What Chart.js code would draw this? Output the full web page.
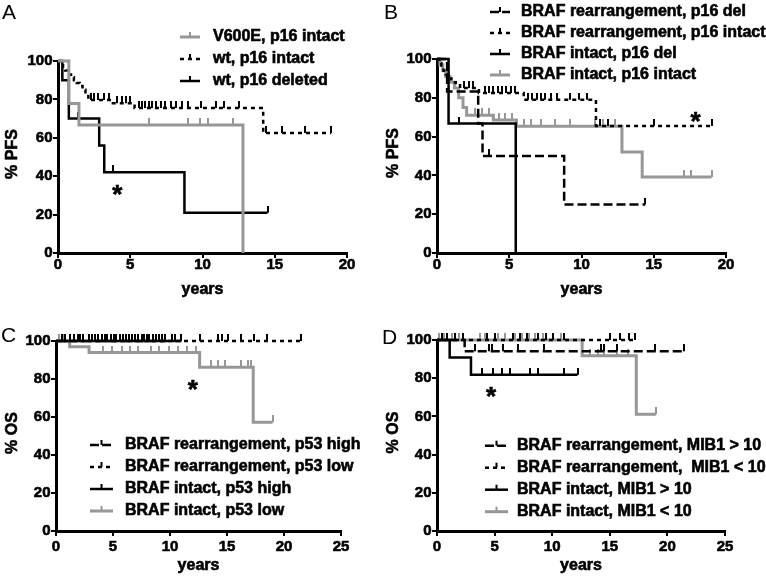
<!DOCTYPE html>
<html>
<head>
<meta charset="utf-8">
<script src="https://cdn.jsdelivr.net/npm/chart.js@4.4.1/dist/chart.umd.min.js"></script>
<style>
  body { margin: 0; background: #fff; }
  #wrap { position: relative; width: 766px; height: 580px; overflow: hidden; }
  canvas { position: absolute; }
  .panel { position: absolute; font: 21px "Liberation Sans", Arial, sans-serif; color: #000; }
</style>
</head>
<body>
<div id="wrap">
  <canvas id="pA" width="383" height="300" style="left:0;top:0"></canvas>
  <canvas id="pB" width="383" height="300" style="left:383px;top:0"></canvas>
  <canvas id="pC" width="383" height="290" style="left:0;top:290px"></canvas>
  <canvas id="pD" width="383" height="290" style="left:383px;top:290px"></canvas>
  <div class="panel" style="left:2px;top:0px">A</div>
  <div class="panel" style="left:384px;top:0px">B</div>
  <div class="panel" style="left:1px;top:323px">C</div>
  <div class="panel" style="left:382px;top:325px">D</div>
</div>
<script>
// tick labels
const xTicksAB = [0, 5, 10, 15, 20];
const xTicksCD = [0, 5, 10, 15, 20, 25];
const yTicks = [0, 20, 40, 60, 80, 100];

// A: PFS, V600E / wt and p16 status (event times, survival after event, censor times, last follow-up)
const aV600eT = [0, 0.75, 1.45, 12.8];
const aV600eS = [100, 77.8, 66.7, 0];
const aV600eC = [6.3, 9.0, 9.8, 10.4, 12.1];

const aWtIntT = [0, 0.2, 0.35, 0.5, 0.7, 0.9, 1.1, 1.3, 1.5, 1.7, 1.9, 2.1, 3.8, 5.3, 14.2];
const aWtIntS = [100, 98.5, 97, 95, 93, 91.5, 90, 88.5, 87, 85, 83, 79.7, 78, 75.5, 62.5];
const aWtIntC = [2.3, 2.5, 2.8, 3.2, 3.5, 4.1, 4.4, 4.7, 5.0, 5.6, 5.8, 6.0, 6.3, 6.5, 6.8, 7.1, 7.4,
                 7.8, 8.2, 8.6, 9.0, 9.9, 10.9, 11.5, 12.5, 14.4, 15.5, 17.1, 18.9];
const aWtIntEnd = 18.9;

const aWtDelT = [0, 0.3, 0.75, 2.85, 3.2, 8.75];
const aWtDelS = [100, 90, 70, 56, 42, 21];
const aWtDelC = [1.4, 3.8, 14.5];
const aWtDelEnd = 14.5;

// B: PFS, BRAF rearrangement and p16
const bReDelT = [0, 0.7, 2.85, 3.15, 8.8];
const bReDelS = [100, 83.3, 66.7, 50, 25];
const bReDelC = [3.6, 14.4];
const bReDelEnd = 14.4;

const bReIntT = [0, 0.15, 0.3, 0.45, 0.6, 0.8, 1.0, 1.3, 1.6, 2.9, 6.0, 11.0];
const bReIntS = [100, 98, 96, 94, 92, 90, 88, 86.5, 85, 82.5, 79, 65.5];
const bReIntC = [1.9, 2.2, 2.5, 3.3, 3.6, 3.9, 4.2, 4.5, 4.8, 5.1, 5.4, 6.3, 6.6, 6.9, 7.2, 7.5,
                 7.9, 8.3, 9.2, 9.8, 10.4, 11.3, 11.8, 15.0, 19.0];
const bReIntEnd = 19.0;

const bInDelT = [0, 0.8, 5.45];
const bInDelS = [100, 66.7, 0];
const bInDelC = [1.5];

const bInIntT = [0, 0.2, 0.4, 0.6, 0.9, 1.2, 1.5, 1.8, 2.05, 3.9, 5.5, 12.8, 14.2];
const bInIntS = [100, 97, 94, 91, 88, 85, 80, 75, 71, 68.5, 65.3, 52, 39.2];
const bInIntC = [2.6, 3.1, 3.6, 4.3, 4.7, 5.2, 6.0, 6.5, 7.2, 8.2, 9.2, 10.9, 11.5, 12.3, 17.1, 17.6, 19.0];
const bInIntEnd = 19.0;

// C: OS, BRAF rearrangement and p53
const cReHiT = [0];
const cReHiS = [100];
const cReHiC = [0.5, 1.6, 2.4, 3.2, 4.0, 4.8, 5.6, 6.4, 7.2, 8.0, 8.8, 9.6];
const cReHiEnd = 9.6;

const cReLoT = [0];
const cReLoS = [100];
const cReLoC = [0.8, 1.9, 2.9, 3.7, 4.5, 5.3, 6.1, 6.9, 7.7, 8.5, 9.3, 10.2, 12.6, 14.2, 14.6, 15.1,
                16.2, 17.4, 18.5, 21.5];
const cReLoEnd = 21.5;

const cInHiT = [0];
const cInHiS = [100];
const cInHiC = [1.2, 2.1, 3.4, 4.3, 5.1, 5.9, 6.7, 7.5, 8.2, 9.0, 10.4, 11.0];
const cInHiEnd = 11.0;

const cInLoT = [0, 1.2, 2.9, 12.6, 17.3];
const cInLoS = [100, 97, 93.9, 86.2, 57.3];
const cInLoC = [0.3, 0.6, 4.1, 4.9, 5.8, 6.5, 7.2, 8.3, 9.0, 9.9, 10.7, 11.5, 12.3, 13.6, 14.2, 14.8,
                16.2, 16.8, 17.1, 19.0];
const cInLoEnd = 19.0;

// D: OS, BRAF rearrangement and MIB1
const dReHiT = [0, 2.4];
const dReHiS = [100, 94.1];
const dReHiC = [3.3, 4.5, 4.8, 5.7, 7.0, 9.3, 14.2, 14.5, 15.6, 18.9, 21.4];
const dReHiEnd = 21.4;

const dReLoT = [0];
const dReLoS = [100];
const dReLoC = [0.4, 0.9, 1.6, 2.3, 4.3, 5.0, 6.6, 7.2, 7.8, 8.8, 9.5, 10.1, 11.0, 15.0, 15.9, 16.7, 17.2];
const dReLoEnd = 17.2;

const dInHiT = [0, 1.1, 2.95];
const dInHiS = [100, 90.9, 81.8];
const dInHiC = [3.9, 4.9, 5.6, 6.3, 8.1, 8.8, 11.0, 12.2];
const dInHiEnd = 12.2;

const dInLoT = [0, 12.6, 17.3];
const dInLoS = [100, 91.7, 61.1];
const dInLoC = [0.2, 0.6, 1.3, 1.9, 3.7, 4.2, 5.3, 5.9, 6.8, 7.4, 8.0, 8.5, 9.2, 10.1, 10.8, 13.3, 14.0,
                14.5, 15.6, 16.6, 19.0];
const dInLoEnd = 19.0;

// significance stars (data coords)
const starA = [4.1, 34];
const starB = [17.9, 71];
const starC = [12.0, 78];
const starD = [4.7, 74];

const FONT = '"Liberation Sans", Arial, sans-serif';
const GREY = '#979797';
const styles = {
  long: { color: '#000', dash: [9, 4], width: 2.5 },
  short: { color: '#000', dash: [4, 4], width: 2.5 },
  solid: { color: '#000', dash: [], width: 2.5 },
  grey: { color: GREY, dash: [], width: 3 }
};

// censor tick drawn above the point
function tickImage(color) {
  const c = document.createElement('canvas');
  c.width = 2;
  c.height = 14;
  const g = c.getContext('2d');
  g.fillStyle = color;
  g.fillRect(0, 0, 2, 7);
  return c;
}
const censorMarks = { '#000': tickImage('#000'), [GREY]: tickImage(GREY) };

function survAt(times, surv, t) {
  let s = surv[0];
  for (let i = 0; i < times.length; i++) {
    if (times[i] <= t) s = surv[i];
  }
  return s;
}

function series(label, times, surv, cens, end, styleName) {
  const st = styles[styleName];
  const pts = times.map((t, i) => ({ x: t, y: surv[i] }));
  if (end != null) pts.push({ x: end, y: surv[surv.length - 1] });
  return [
    {
      label,
      data: pts,
      stepped: true,
      borderColor: st.color,
      borderWidth: st.width,
      borderDash: st.dash,
      pointRadius: 0,
      fill: false,
      clip: false
    },
    {
      label: label + ' censored',
      data: cens.map(t => ({ x: t, y: survAt(times, surv, t) })),
      showLine: false,
      pointStyle: censorMarks[st.color],
      pointRadius: 3,
      clip: false
    }
  ];
}

function boldText(ctx, text, x, y) {
  ctx.fillText(text, x, y);
  ctx.strokeText(text, x, y);
}

// axis labels, titles, legend and star in the heavy bold style of the figure
const decor = {
  id: 'decor',
  afterDraw(chart, args, opts) {
    const ctx = chart.ctx;
    const sx = chart.scales.x;
    const sy = chart.scales.y;
    const area = chart.chartArea;
    ctx.save();
    ctx.fillStyle = '#000';
    ctx.strokeStyle = '#000';
    ctx.lineWidth = 0.6;

    // tick labels from the scales
    ctx.font = 'bold 15px ' + FONT;
    ctx.textBaseline = 'middle';
    ctx.textAlign = 'center';
    sx.ticks.forEach(t => boldText(ctx, String(t.value), sx.getPixelForValue(t.value), area.bottom + opts.xLabelDy));
    ctx.textAlign = 'right';
    sy.ticks.forEach(t => boldText(ctx, String(t.value), area.left - 5.5, sy.getPixelForValue(t.value)));

    // axis titles
    ctx.font = 'bold 16px ' + FONT;
    ctx.textAlign = 'center';
    boldText(ctx, 'years', (area.left + area.right) / 2, area.bottom + opts.xTitleDy);
    ctx.save();
    ctx.translate(opts.yTitleX, (area.top + area.bottom) / 2 - 3);
    ctx.rotate(-Math.PI / 2);
    boldText(ctx, opts.yTitle, 0, 0);
    ctx.restore();

    // star
    ctx.font = 'bold 26px ' + FONT;
    ctx.textAlign = 'center';
    ctx.textBaseline = 'alphabetic';
    boldText(ctx, '*', sx.getPixelForValue(opts.star[0]), sy.getPixelForValue(opts.star[1]) + 15);

    // legend
    ctx.font = 'bold 16px ' + FONT;
    ctx.textAlign = 'left';
    ctx.textBaseline = 'middle';
    opts.items.forEach((it, i) => {
      const st = styles[it.style];
      const y = opts.top + i * opts.gap;
      ctx.strokeStyle = st.color;
      ctx.lineWidth = st.width;
      ctx.setLineDash(it.style === 'long' ? [9, 3] : st.dash);
      ctx.beginPath();
      ctx.moveTo(opts.x0, y);
      ctx.lineTo(opts.x1, y);
      ctx.stroke();
      ctx.setLineDash([]);
      ctx.fillStyle = st.color;
      ctx.fillRect((opts.x0 + opts.x1) / 2 - 1, y - 5, 2, 5);
      ctx.fillStyle = '#000';
      ctx.strokeStyle = '#000';
      ctx.lineWidth = 0.6;
      boldText(ctx, it.text, opts.tx, y);
    });
    ctx.restore();
  }
};

function makeChart(id, cfg) {
  const gridOpts = { drawOnChartArea: false, drawTicks: true, tickLength: 5, color: '#000', lineWidth: 2 };
  const borderOpts = { display: true, color: '#000', width: 3 };
  return new Chart(document.getElementById(id), {
    type: 'line',
    data: { datasets: cfg.datasets },
    plugins: [decor],
    options: {
      responsive: false,
      animation: false,
      devicePixelRatio: 1,
      layout: { padding: cfg.pad },
      plugins: {
        legend: { display: false },
        tooltip: { enabled: false },
        decor: cfg.decor
      },
      scales: {
        x: {
          type: 'linear',
          min: 0,
          max: cfg.xTicks[cfg.xTicks.length - 1],
          afterBuildTicks: s => { s.ticks = cfg.xTicks.map(v => ({ value: v })); },
          afterFit: s => { s.height = cfg.xH; },
          ticks: { display: false },
          grid: gridOpts,
          border: borderOpts
        },
        y: {
          type: 'linear',
          min: 0,
          max: 100,
          afterBuildTicks: s => { s.ticks = yTicks.map(v => ({ value: v })); },
          afterFit: s => { s.width = cfg.yW; },
          ticks: { display: false },
          grid: gridOpts,
          border: borderOpts
        }
      }
    }
  });
}

makeChart('pA', {
  xTicks: xTicksAB, yW: 58, xH: 47,
  pad: { left: 0, top: 61, right: 36, bottom: 0 },
  datasets: [
    ...series('V600E, p16 intact', aV600eT, aV600eS, aV600eC, null, 'grey'),
    ...series('wt, p16 intact', aWtIntT, aWtIntS, aWtIntC, aWtIntEnd, 'short'),
    ...series('wt, p16 deleted', aWtDelT, aWtDelS, aWtDelC, aWtDelEnd, 'solid')
  ],
  decor: {
    yTitle: '% PFS', yTitleX: 12.5, xLabelDy: 11.5, xTitleDy: 37,
    star: starA, x0: 180, x1: 200, tx: 213, top: 37, gap: 22,
    items: [
      { text: 'V600E, p16 intact', style: 'grey' },
      { text: 'wt, p16 intact', style: 'short' },
      { text: 'wt, p16 deleted', style: 'solid' }
    ]
  }
});

makeChart('pB', {
  xTicks: xTicksAB, yW: 54, xH: 47,
  pad: { left: 0, top: 59, right: 40, bottom: 0 },
  datasets: [
    ...series('BRAF rearrangement, p16 del', bReDelT, bReDelS, bReDelC, bReDelEnd, 'long'),
    ...series('BRAF rearrangement, p16 intact', bReIntT, bReIntS, bReIntC, bReIntEnd, 'short'),
    ...series('BRAF intact, p16 del', bInDelT, bInDelS, bInDelC, null, 'solid'),
    ...series('BRAF intact, p16 intact', bInIntT, bInIntS, bInIntC, bInIntEnd, 'grey')
  ],
  decor: {
    yTitle: '% PFS', yTitleX: 10.5, xLabelDy: 11.5, xTitleDy: 37,
    star: starB, x0: 107, x1: 127, tx: 138, top: 12, gap: 21,
    items: [
      { text: 'BRAF rearrangement, p16 del', style: 'long' },
      { text: 'BRAF rearrangement, p16 intact', style: 'short' },
      { text: 'BRAF intact, p16 del', style: 'solid' },
      { text: 'BRAF intact, p16 intact', style: 'grey' }
    ]
  }
});

makeChart('pC', {
  xTicks: xTicksCD, yW: 56, xH: 48,
  pad: { left: 0, top: 51, right: 42, bottom: 1 },
  datasets: [
    ...series('BRAF rearrangement, p53 high', cReHiT, cReHiS, cReHiC, cReHiEnd, 'long'),
    ...series('BRAF rearrangement, p53 low', cReLoT, cReLoS, cReLoC, cReLoEnd, 'short'),
    ...series('BRAF intact, p53 high', cInHiT, cInHiS, cInHiC, cInHiEnd, 'solid'),
    ...series('BRAF intact, p53 low', cInLoT, cInLoS, cInLoC, cInLoEnd, 'grey')
  ],
  decor: {
    yTitle: '% OS', yTitleX: 12.5, xLabelDy: 15.5, xTitleDy: 35,
    star: starC, x0: 90, x1: 113, tx: 125, top: 155, gap: 22,
    items: [
      { text: 'BRAF rearrangement, p53 high', style: 'long' },
      { text: 'BRAF rearrangement, p53 low', style: 'short' },
      { text: 'BRAF intact, p53 high', style: 'solid' },
      { text: 'BRAF intact, p53 low', style: 'grey' }
    ]
  }
});

makeChart('pD', {
  xTicks: xTicksCD, yW: 54, xH: 48,
  pad: { left: 0, top: 50, right: 41, bottom: 1 },
  datasets: [
    ...series('BRAF rearrangement, MIB1 > 10', dReHiT, dReHiS, dReHiC, dReHiEnd, 'long'),
    ...series('BRAF rearrangement,  MIB1 < 10', dReLoT, dReLoS, dReLoC, dReLoEnd, 'short'),
    ...series('BRAF intact, MIB1 > 10', dInHiT, dInHiS, dInHiC, dInHiEnd, 'solid'),
    ...series('BRAF intact, MIB1 < 10', dInLoT, dInLoS, dInLoC, dInLoEnd, 'grey')
  ],
  decor: {
    yTitle: '% OS', yTitleX: 10.5, xLabelDy: 15.5, xTitleDy: 35,
    star: starD, x0: 102, x1: 125, tx: 134, top: 155.7, gap: 22,
    items: [
      { text: 'BRAF rearrangement, MIB1 > 10', style: 'long' },
      { text: 'BRAF rearrangement,  MIB1 < 10', style: 'short' },
      { text: 'BRAF intact, MIB1 > 10', style: 'solid' },
      { text: 'BRAF intact, MIB1 < 10', style: 'grey' }
    ]
  }
});
</script>
</body>
</html>
